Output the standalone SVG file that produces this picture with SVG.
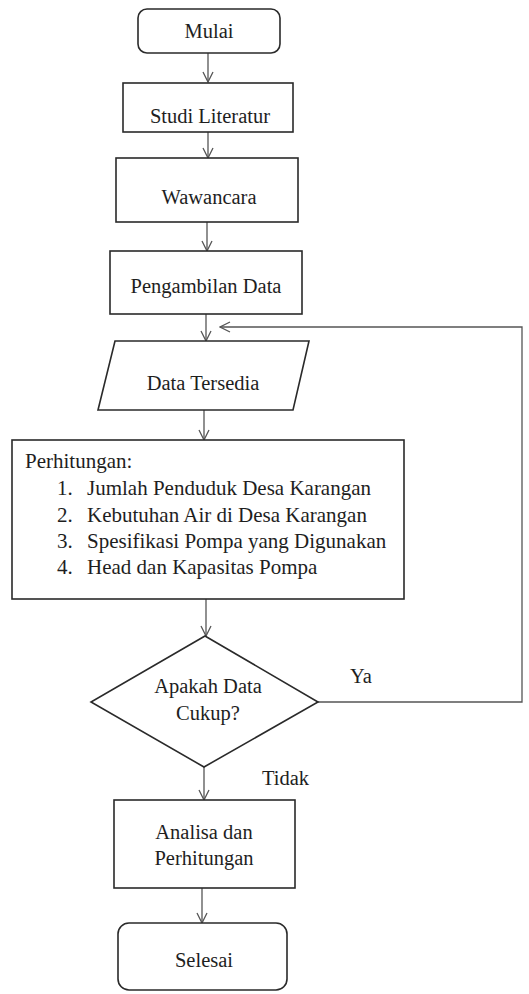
<svg xmlns="http://www.w3.org/2000/svg" width="529" height="994" viewBox="0 0 529 994">
<style>
.shape{fill:#fff;stroke:#2a2a2a;stroke-width:1.6}
.conn{fill:none;stroke:#555;stroke-width:1.3}
text{font-family:"Liberation Serif","Times New Roman",serif;font-size:20.5px;fill:#1e1e1e}
.c{text-anchor:middle}
.l{font-size:21px}
</style>
<defs>
<marker id="arr" viewBox="0 0 12 12" refX="11" refY="6" markerWidth="12" markerHeight="12" markerUnits="userSpaceOnUse" orient="auto">
<path d="M1,1 L11,6 L1,11" fill="none" stroke="#555" stroke-width="1.3"/>
</marker>
</defs>
<rect width="529" height="994" fill="#fff"/>
<g id="connectors">
<line class="conn" x1="208" y1="53" x2="208" y2="82" marker-end="url(#arr)"/>
<line class="conn" x1="208" y1="132" x2="208" y2="158" marker-end="url(#arr)"/>
<line class="conn" x1="207" y1="222" x2="207" y2="251" marker-end="url(#arr)"/>
<line class="conn" x1="206" y1="314" x2="206" y2="341" marker-end="url(#arr)"/>
<line class="conn" x1="204" y1="410" x2="204" y2="440" marker-end="url(#arr)"/>
<line class="conn" x1="206" y1="599" x2="206" y2="636" marker-end="url(#arr)"/>
<line class="conn" x1="204" y1="767" x2="204" y2="800" marker-end="url(#arr)"/>
<line class="conn" x1="202" y1="888" x2="202" y2="923" marker-end="url(#arr)"/>
<polyline class="conn" points="318,702 522,702 522,327 220,327" marker-end="url(#arr)"/>
<text x="350" y="683">Ya</text>
<text x="262" y="785">Tidak</text>
</g>
<g id="mulai">
<rect class="shape" x="138" y="9" width="142" height="44" rx="9"/>
<text class="c" x="209" y="38">Mulai</text>
</g>
<g id="studi">
<rect class="shape" x="123" y="83" width="170" height="49"/>
<text class="c" x="210" y="123">Studi Literatur</text>
</g>
<g id="wawancara">
<rect class="shape" x="116" y="158" width="182" height="64"/>
<text class="c" x="209" y="204">Wawancara</text>
</g>
<g id="pengambilan">
<rect class="shape" x="110" y="251" width="192" height="63"/>
<text class="c" x="206" y="293">Pengambilan Data</text>
</g>
<g id="data">
<polygon class="shape" points="115,341 309,341 293,410 98,410"/>
<text class="c" x="203" y="390">Data Tersedia</text>
</g>
<g id="perhitungan">
<rect class="shape" x="12" y="440" width="392" height="159"/>
<text class="l" x="25" y="468">Perhitungan:</text>
<text class="l" x="57" y="495">1.</text><text class="l" x="87" y="495">Jumlah Penduduk Desa Karangan</text>
<text class="l" x="57" y="522">2.</text><text class="l" x="87" y="522">Kebutuhan Air di Desa Karangan</text>
<text class="l" x="57" y="548">3.</text><text class="l" x="87" y="548">Spesifikasi Pompa yang Digunakan</text>
<text class="l" x="57" y="574">4.</text><text class="l" x="87" y="574">Head dan Kapasitas Pompa</text>
</g>
<g id="keputusan">
<polygon class="shape" points="205,636 318,702 204,767 91,702"/>
<text class="c" x="208" y="693">Apakah Data</text>
<text class="c" x="208" y="720">Cukup?</text>
</g>
<g id="analisa">
<rect class="shape" x="114" y="800" width="181" height="88"/>
<text class="c" x="204" y="839">Analisa dan</text>
<text class="c" x="204" y="865">Perhitungan</text>
</g>
<g id="selesai">
<rect class="shape" x="118" y="923" width="169" height="67" rx="11"/>
<text class="c" x="204" y="967">Selesai</text>
</g>
</svg>
